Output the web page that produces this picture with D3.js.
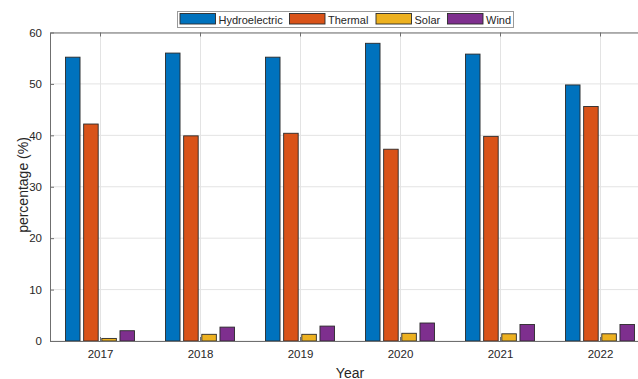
<!DOCTYPE html>
<html>
<head>
<meta charset="utf-8">
<script src="https://cdn.jsdelivr.net/npm/d3@7"></script>
<style>
  html, body { margin: 0; padding: 0; background: #fff; }
  svg { display: block; font-family: "Liberation Sans", Arial, Helvetica, sans-serif; }
</style>
</head>
<body>
<svg id="chart" width="638" height="379"></svg>
<script>
// Electricity generation share by source, per year (%)
const years = [2017, 2018, 2019, 2020, 2021, 2022];
const series = ["Hydroelectric", "Thermal", "Solar", "Wind"];
const hydroelectric = [55.2, 56.0, 55.2, 57.9, 55.8, 49.8];
const thermal = [42.2, 39.9, 40.4, 37.3, 39.8, 45.6];
const solar = [0.5, 1.3, 1.3, 1.5, 1.4, 1.4];
const wind = [2.0, 2.7, 2.9, 3.5, 3.2, 3.2];
const yTicks = [0, 10, 20, 30, 40, 50, 60];
const colors = ["#0072BD", "#D95319", "#EDB120", "#7E2F8E"];

const values = [hydroelectric, thermal, solar, wind];

const svg = d3.select("#chart");
const plotLeft = 50, plotRight = 650, plotTop = 32.5, plotBottom = 341;
const axisColor = "#6f6f6f";
const textColor = "#262626";

const x = d3.scaleLinear().domain([2016.5, 2022.5]).range([plotLeft, plotRight]);
const y = d3.scaleLinear().domain([0, 60]).range([plotBottom, plotTop]);
const offset = d3.scaleBand().domain(series).range([-0.345, 0.345]).paddingInner(0.2);
const color = d3.scaleOrdinal().domain(series).range(colors);

// grid lines
const grid = svg.append("g");
grid.selectAll("line.gy").data(yTicks).join("line")
  .attr("x1", plotLeft).attr("x2", plotRight)
  .attr("y1", d => y(d)).attr("y2", d => y(d))
  .attr("stroke", "#e3e3e3").attr("stroke-width", 1);
grid.selectAll("line.gx").data(years).join("line")
  .attr("x1", d => Math.round(x(d)) + 0.5).attr("x2", d => Math.round(x(d)) + 0.5)
  .attr("y1", plotTop).attr("y2", plotBottom)
  .attr("stroke", "#e3e3e3").attr("stroke-width", 1);

// bars
const rows = [];
series.forEach((s, si) => years.forEach((yr, yi) => rows.push({ s, yr, v: values[si][yi] })));
svg.append("g").selectAll("rect").data(rows).join("rect")
  .attr("x", d => x(d.yr + offset(d.s)))
  .attr("width", d => x(d.yr + offset(d.s) + offset.bandwidth()) - x(d.yr + offset(d.s)))
  .attr("y", d => y(d.v))
  .attr("height", d => y(0) - y(d.v))
  .attr("fill", d => color(d.s))
  .attr("stroke", "#2a2a2a").attr("stroke-width", 0.9);

// axes
const yAxis = d3.axisLeft(y).tickValues(yTicks).tickSizeInner(-4).tickSizeOuter(0).tickPadding(8);
const gy = svg.append("g").attr("transform", `translate(${plotLeft},0)`).call(yAxis);
const xAxis = d3.axisBottom(x).tickValues(years).tickFormat(d3.format("d")).tickSizeInner(-4).tickSizeOuter(0).tickPadding(9);
const gx = svg.append("g").attr("transform", `translate(0,${plotBottom})`).call(xAxis);
const xTop = d3.axisTop(x).tickValues(years).tickFormat("").tickSizeInner(-4).tickSizeOuter(0);
const gxt = svg.append("g").attr("transform", `translate(0,${plotTop})`).call(xTop);
[gy, gx, gxt].forEach(g => {
  g.select(".domain").attr("stroke", axisColor);
  g.selectAll(".tick line").attr("stroke", axisColor);
  g.selectAll(".tick text").attr("fill", textColor).attr("font-size", 11.5).attr("font-family", "Liberation Sans, Arial, sans-serif");
});

// axis titles
svg.append("text")
  .attr("x", (plotLeft + plotRight) / 2).attr("y", 377.5)
  .attr("text-anchor", "middle").attr("fill", textColor).attr("font-size", 14)
  .text("Year");
svg.append("text")
  .attr("transform", `translate(28,185) rotate(-90)`)
  .attr("text-anchor", "middle").attr("fill", textColor).attr("font-size", 14)
  .text("percentage (%)");

// legend
const legend = svg.append("g");
legend.append("rect")
  .attr("x", 177.5).attr("y", 11.5).attr("width", 336).attr("height", 16)
  .attr("fill", "#fff").attr("stroke", "#9a9a9a").attr("stroke-width", 1);
const legendX = [180, 289.5, 376, 447.5];
const items = legend.selectAll("g.item").data(series).join("g")
  .attr("transform", (d, i) => `translate(${legendX[i]},0)`);
items.append("rect")
  .attr("x", 0).attr("y", 13.5).attr("width", 35.5).attr("height", 10.5)
  .attr("fill", d => color(d)).attr("stroke", "#2a2a2a").attr("stroke-width", 0.9);
items.append("text")
  .attr("x", 38.5).attr("y", 23.5)
  .attr("fill", textColor).attr("font-size", 11)
  .text(d => d);
</script>
</body>
</html>
